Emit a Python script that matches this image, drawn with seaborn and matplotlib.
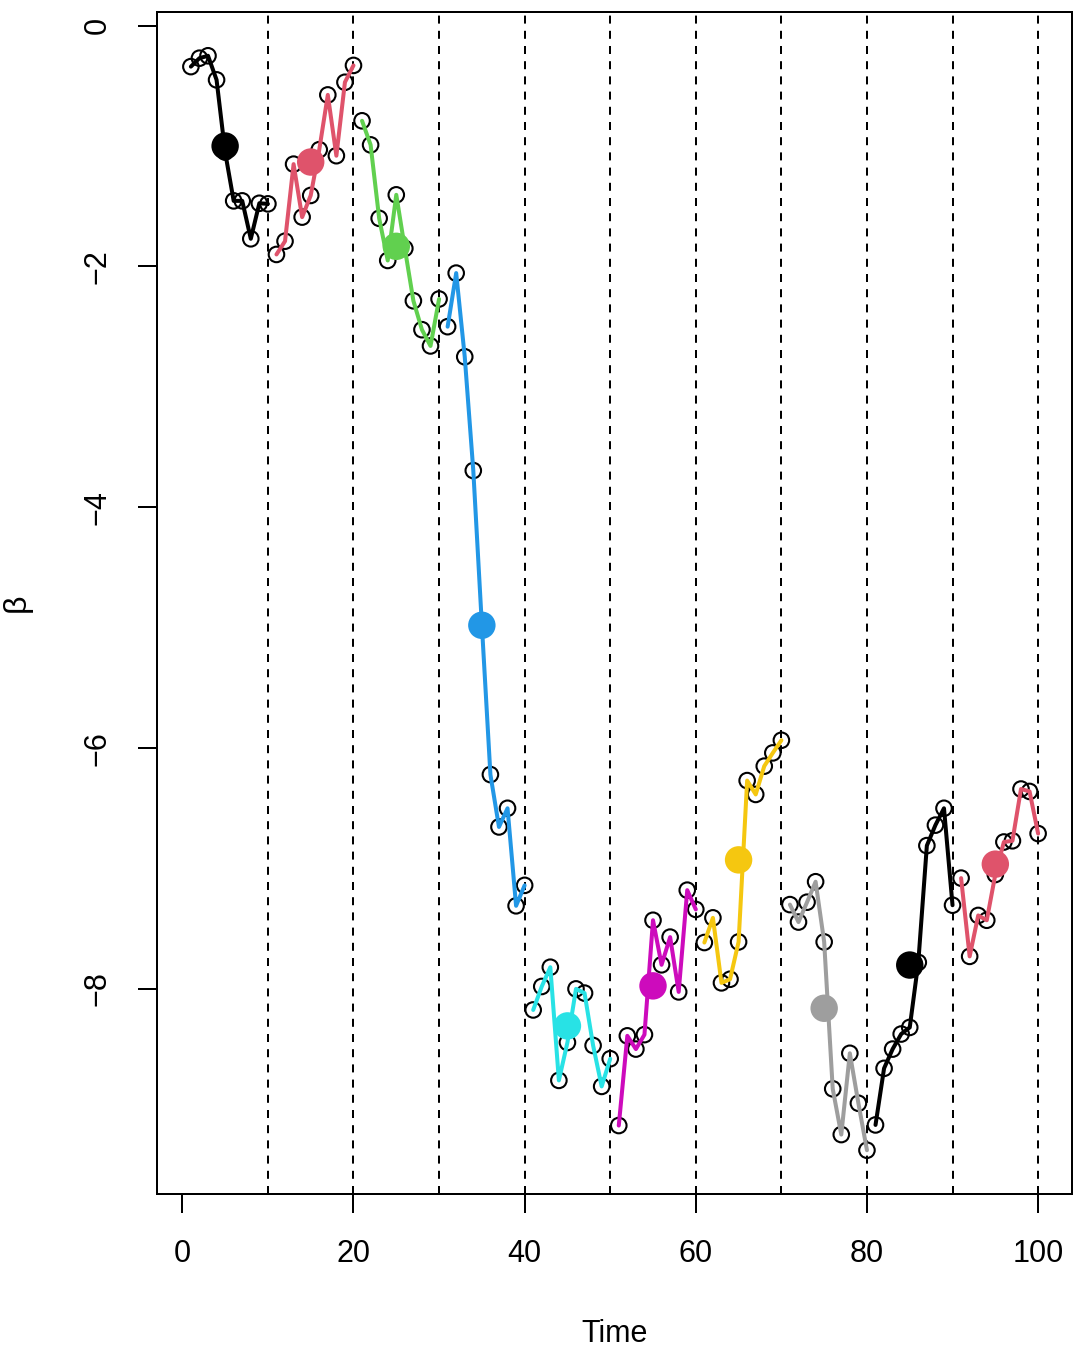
import numpy as np
import pandas as pd
import matplotlib
matplotlib.use("Agg")
import matplotlib.pyplot as plt
import seaborn as sns

# Piecewise random-walk series, observed at times 1..100
time = list(range(1, 101))
beta = [
    -0.34, -0.27, -0.25, -0.45, -1.05, -1.455, -1.455, -1.77, -1.475, -1.48,
    -1.90, -1.79, -1.15, -1.59, -1.41, -1.03, -0.575, -1.08, -0.47, -0.33,
    -0.79, -0.99, -1.60, -1.95, -1.405, -1.85, -2.285, -2.525, -2.66, -2.27,
    -2.50, -2.055, -2.75, -3.695, -4.975, -6.22, -6.655, -6.50, -7.31, -7.14,
    -8.175, -7.98, -7.82, -8.76, -8.445, -8.00, -8.035, -8.47, -8.81, -8.58,
    -9.135, -8.39, -8.50, -8.38, -7.43, -7.80, -7.57, -8.025, -7.18, -7.34,
    -7.615, -7.41, -7.95, -7.92, -7.61, -6.27, -6.385, -6.15, -6.04, -5.935,
    -7.30, -7.445, -7.28, -7.11, -7.61, -8.83, -9.21, -8.535, -8.95, -9.34,
    -9.13, -8.66, -8.50, -8.375, -8.32, -7.78, -6.81, -6.64, -6.50, -7.305,
    -7.08, -7.73, -7.39, -7.43, -7.05, -6.78, -6.77, -6.34, -6.36, -6.71,
]
# Block boundaries and the time at which each block mean is shown
breaks = [10, 20, 30, 40, 50, 60, 70, 80, 90, 100]
block_centres = [5, 15, 25, 35, 45, 55, 65, 75, 85, 95]
block_colours = ["#000000", "#DF536B", "#61D04F", "#2297E6", "#28E2E5",
                 "#CD0BBC", "#F5C710", "#9E9E9E", "#000000", "#DF536B"]
x_ticks = [0, 20, 40, 60, 80, 100]
y_ticks = [0, -2, -4, -6, -8]

block_names = [f"b{i}" for i in range(len(breaks))]
df = pd.DataFrame({"time": time, "beta": beta})
df["block"] = [block_names[(t - 1) // 10] for t in df["time"]]
means = df.groupby("block", sort=False)["beta"].mean().reset_index()
means["time"] = block_centres

sns.set_theme(style="white")
plt.rcParams["font.family"] = ["Liberation Sans", "DejaVu Sans"]
plt.rcParams["lines.solid_capstyle"] = "round"
plt.rcParams["lines.solid_joinstyle"] = "round"
plt.rcParams["axes.labelcolor"] = "black"
plt.rcParams["text.color"] = "black"

W, H = 1073, 1349
fig = plt.figure(figsize=(W / 100, H / 100), dpi=100)
left, right, top, bottom = 157, 1072, 12, 1194
ax = fig.add_axes([left / W, 1 - bottom / H, (right - left) / W, (bottom - top) / H])

# R-style 4% padding around the data range
def padded(lo, hi):
    d = (hi - lo) * 0.04
    return lo - d, hi + d

ax.set_xlim(*padded(min(time), max(time)))
ax.set_ylim(*padded(min(beta), max(beta)))

for b in breaks:
    ax.axvline(b, color="black", lw=1.44, ls=(0, (4, 3.6)), zorder=1)

sns.scatterplot(data=df, x="time", y="beta", ax=ax, marker="o", s=125,
                facecolor="none", edgecolor="black", linewidth=1.5,
                zorder=2, legend=False)
sns.lineplot(data=df, x="time", y="beta", hue="block", hue_order=block_names,
             palette=block_colours, estimator=None, sort=False, ax=ax,
             linewidth=2.9, legend=False, zorder=3)
sns.scatterplot(data=means, x="time", y="beta", hue="block",
                hue_order=block_names, palette=block_colours, ax=ax,
                s=390, linewidth=0, legend=False, zorder=4)

for sp in ax.spines.values():
    sp.set_visible(True)
    sp.set_color("black")
    sp.set_linewidth(1.44)

ax.set_xticks(x_ticks)
ax.set_yticks(y_ticks)
ax.set_xticklabels([str(v) for v in x_ticks])
ax.set_yticklabels([str(v).replace("-", "\u2212") for v in y_ticks])
ax.tick_params(axis="both", direction="out", length=13.7, width=1.44,
               colors="black", labelcolor="black", labelsize=22,
               bottom=True, left=True)
ax.tick_params(axis="x", pad=19)
ax.tick_params(axis="y", pad=18, labelrotation=90)
for lab in ax.get_yticklabels():
    lab.set_va("center")

ax.set_xlabel("Time", fontsize=22, labelpad=36, color="black")
ax.set_ylabel("\u03b2", fontsize=23, labelpad=37, color="black")
ax.grid(False)

fig.savefig("out.png", dpi=100, facecolor="white")
